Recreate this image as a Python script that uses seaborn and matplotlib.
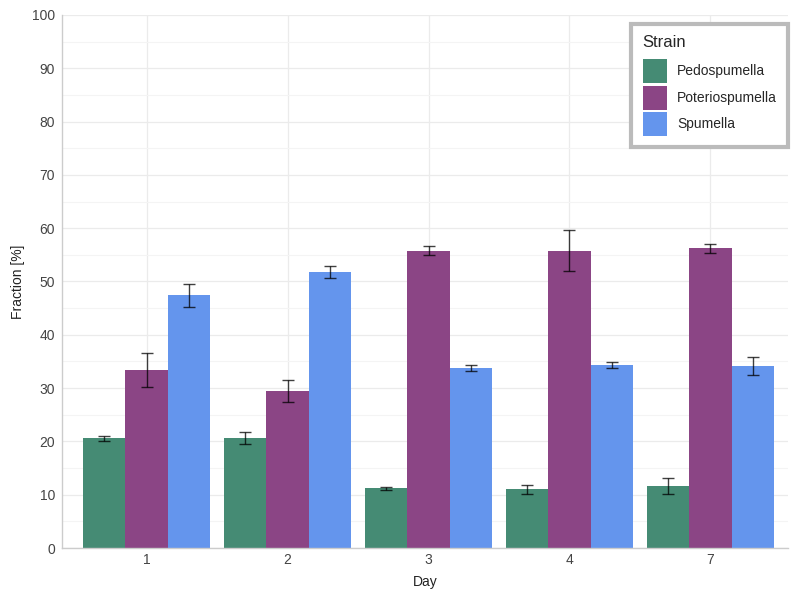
import seaborn as sns
import matplotlib.pyplot as plt
import pandas as pd
from matplotlib.ticker import MultipleLocator

days = ['1', '2', '3', '4', '7']
strains = ['Pedospumella', 'Poteriospumella', 'Spumella']
pedo = [20.6, 20.7, 11.2, 11.0, 11.6]
pedo_err = [0.5, 1.1, 0.3, 0.8, 1.5]
poterio = [33.4, 29.4, 55.8, 55.8, 56.2]
poterio_err = [3.2, 2.1, 0.9, 3.8, 0.9]
spumella = [47.4, 51.8, 33.8, 34.3, 34.2]
spumella_err = [2.2, 1.1, 0.6, 0.6, 1.7]
colors = ['#458B74', '#8B4585', '#6495ED']

if __name__ == '__main__':
    rows = []
    for s, vals, errs in zip(strains, [pedo, poterio, spumella], [pedo_err, poterio_err, spumella_err]):
        for d, v, e in zip(days, vals, errs):
            rows.append({'Day': d, 'Strain': s, 'Fraction': v, 'err': e})
    df = pd.DataFrame(rows)

    sns.set_style('whitegrid')
    plt.rcParams['font.family'] = ['Liberation Sans', 'DejaVu Sans']

    fig = plt.figure(figsize=(8, 5.92), dpi=100)
    ax = fig.add_axes([0.0775, 0.0743, 0.9075, 0.9004])
    sns.barplot(data=df, x='Day', y='Fraction', hue='Strain', order=days,
                hue_order=strains, palette=colors, errorbar=None, width=0.9,
                saturation=1, linewidth=0, ax=ax)

    # error bars at bar centres
    for cont, s in zip(ax.containers, strains):
        sub = df[df['Strain'] == s].set_index('Day').loc[days]
        xs = [p.get_x() + p.get_width() / 2 for p in cont.patches]
        ax.errorbar(xs, sub['Fraction'], yerr=sub['err'], fmt='none',
                    ecolor='black', elinewidth=1, capsize=4, capthick=1,
                    alpha=0.75, zorder=5)

    ax.set_ylim(0, 100)
    ax.set_xlim(-0.6, 4.55)
    ax.yaxis.set_major_locator(MultipleLocator(10))
    ax.yaxis.set_minor_locator(MultipleLocator(5))
    ax.grid(True, which='major', color='#ebebeb', linewidth=0.9)
    ax.grid(True, which='minor', axis='y', color='#f4f4f4', linewidth=0.8)
    ax.set_axisbelow(True)
    for side in ['top', 'right']:
        ax.spines[side].set_visible(False)
    for side in ['left', 'bottom']:
        ax.spines[side].set_color('#cccccc')
        ax.spines[side].set_linewidth(1)
    ax.tick_params(axis='both', labelsize=10, colors='#444444', length=0)
    ax.tick_params(axis='x', pad=3.5)
    ax.tick_params(axis='y', pad=5)
    ax.set_xlabel('Day', fontsize=10, color='#222222', labelpad=6)
    ax.set_ylabel('Fraction [%]', fontsize=10, color='#222222', labelpad=5)

    leg = ax.legend(title='Strain', loc='upper right', bbox_to_anchor=(1.0, 0.983),
                    fontsize=10, title_fontsize=12, frameon=True, fancybox=False,
                    handlelength=1.73, handleheight=2.28, labelspacing=0.18,
                    handletextpad=0.75, borderpad=0.8, borderaxespad=0)
    leg._legend_box.align = 'left'
    leg._legend_box.sep = 6.5
    frame = leg.get_frame()
    frame.set_edgecolor('#bbbbbb')
    frame.set_linewidth(3)
    frame.set_alpha(1)

    fig.savefig('out.png', dpi=100)
